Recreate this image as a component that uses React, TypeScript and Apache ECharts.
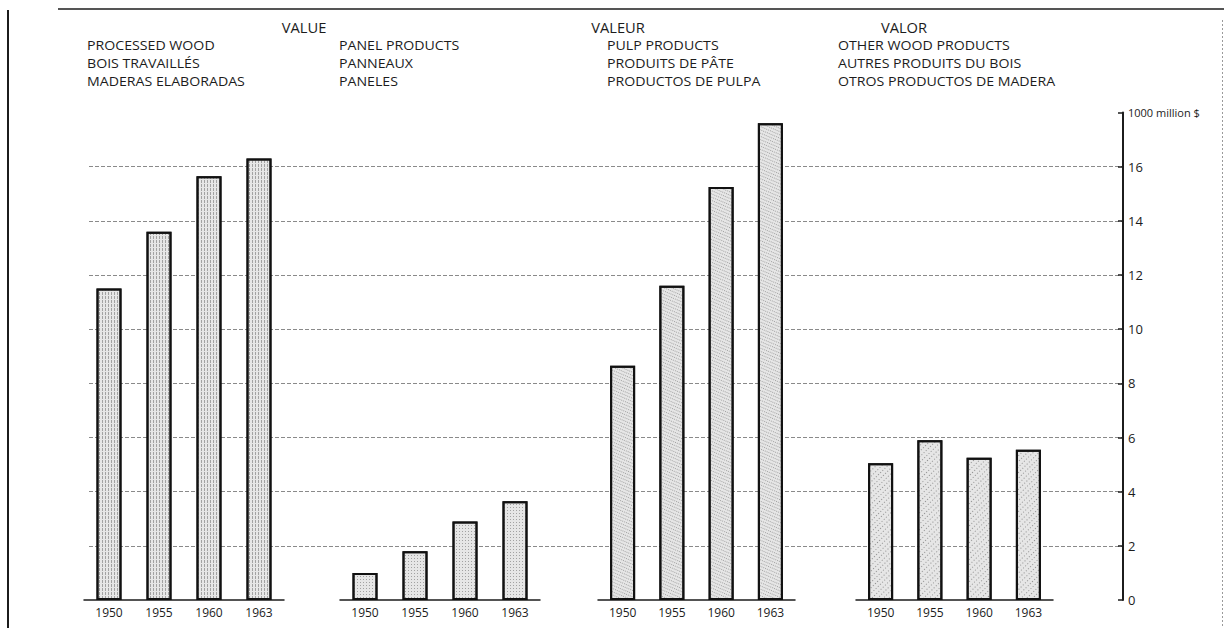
import React, { useEffect, useRef } from "react";
import * as echarts from "echarts";

const years = ["1950", "1955", "1960", "1963"];
const processedWood = [11.5, 13.6, 15.65, 16.3];
const panelProducts = [1.0, 1.8, 2.9, 3.65];
const pulpProducts = [8.65, 11.6, 15.25, 17.6];
const otherWoodProducts = [5.05, 5.9, 5.25, 5.55];
const yMax = 18;
const yStep = 2;
const unitLabel = "1000 million $";
const headings = ["VALUE", "VALEUR", "VALOR"];
const groupLabels = [
  ["PROCESSED WOOD", "BOIS TRAVAILLÉS", "MADERAS ELABORADAS"],
  ["PANEL PRODUCTS", "PANNEAUX", "PANELES"],
  ["PULP PRODUCTS", "PRODUITS DE PÂTE", "PRODUCTOS DE PULPA"],
  ["OTHER WOOD PRODUCTS", "AUTRES PRODUITS DU BOIS", "OTROS PRODUCTOS DE MADERA"],
];
const seriesData = [processedWood, panelProducts, pulpProducts, otherWoodProducts];

const FONT = "'Open Sans', Lato, sans-serif";
const INK = "#1c1c1c";

// layout
const gridLefts = [84, 340, 598, 856];
const gridWidths = [200, 200, 197, 197];
const headingX = [304, 618, 904];
const labelX = [87, 339, 607, 838];
const labelY = [45, 63, 81];
const TOP = 112.5;
const BOTTOM = 28;

const decals: any[] = [
  { symbol: "rect", symbolSize: 1, color: "rgba(80,80,80,0.45)", dashArrayX: [1, 2], dashArrayY: [3, 1], rotation: 0 },
  { symbol: "rect", symbolSize: 1, color: "rgba(80,80,80,0.45)", dashArrayX: [1, 2], dashArrayY: [1, 2], rotation: 0 },
  { symbol: "rect", symbolSize: 1, color: "rgba(80,80,80,0.45)", dashArrayX: [1, 1], dashArrayY: [1, 2], rotation: 0.4 },
  { symbol: "rect", symbolSize: 1, color: "rgba(60,60,60,0.5)", dashArrayX: [1, 3], dashArrayY: [1, 2], rotation: 0.8 },
];

export default function App() {
  const ref = useRef<HTMLDivElement>(null);
  useEffect(() => {
    document.body.style.margin = "0";
    if (!ref.current) return;
    const chart = echarts.init(ref.current, undefined, { renderer: "svg" });

    const grids: any[] = gridLefts.map((l, i) => ({ left: l, width: gridWidths[i], top: TOP, bottom: BOTTOM }));
    grids.push({ left: 89, right: 101, top: TOP, bottom: BOTTOM });

    const xAxes: any[] = gridLefts.map((_, i) => ({
      type: "category",
      gridIndex: i,
      data: years,
      axisLine: { show: true, lineStyle: { color: INK, width: 1.5 } },
      axisTick: { show: false },
      axisLabel: { fontFamily: FONT, fontSize: 12, color: INK, margin: 6 },
    }));
    xAxes.push({ type: "value", gridIndex: 4, show: false, min: 0, max: 1 });

    const yAxes: any[] = gridLefts.map((_, i) => ({
      type: "value",
      gridIndex: i,
      min: 0,
      max: yMax,
      interval: yStep,
      show: false,
    }));
    const nTicks = yMax / yStep + 1;
    const splitColors = Array.from({ length: nTicks }, (_, k) =>
      k === 0 || k === nTicks - 1 ? "rgba(0,0,0,0)" : "#8a8a8a"
    );
    yAxes.push({
      type: "value",
      gridIndex: 4,
      position: "right",
      min: 0,
      max: yMax,
      interval: yStep,
      axisLine: { show: true, onZero: false, lineStyle: { color: INK, width: 2 } },
      axisTick: { show: true, inside: true, length: 5, lineStyle: { color: INK, width: 1.5 } },
      axisLabel: {
        margin: 5,
        fontFamily: FONT,
        fontSize: 13,
        color: INK,
        formatter: (v: number) => (v === yMax ? "{u|" + unitLabel + "}" : String(v)),
        rich: { u: { fontFamily: FONT, fontSize: 11, color: INK } },
      },
      splitLine: { show: true, lineStyle: { color: splitColors, width: 1, type: [4, 2] } },
    });

    const series: any[] = seriesData.map((d, i) => ({
      type: "bar",
      xAxisIndex: i,
      yAxisIndex: i,
      data: d,
      barWidth: 25,
      itemStyle: { color: "#e6e6e6", borderColor: "#111", borderWidth: 2, decal: decals[i] },
      z: 3,
    }));

    const graphics: any[] = [];
    headings.forEach((h, i) =>
      graphics.push({
        type: "text",
        x: headingX[i],
        y: 28,
        scaleX: 1.05,
        style: { text: h, fontFamily: FONT, fontSize: 14, fill: INK, align: "center", verticalAlign: "middle" },
      })
    );
    groupLabels.forEach((lines, i) =>
      lines.forEach((t, j) =>
        graphics.push({
          type: "text",
          x: labelX[i],
          y: labelY[j],
          scaleX: 1.18,
          style: { text: t, fontFamily: FONT, fontSize: 12, fill: INK, align: "left", verticalAlign: "middle" },
        })
      )
    );
    graphics.push(
      { type: "line", shape: { x1: 58, y1: 9, x2: 1224, y2: 9 }, style: { stroke: INK, lineWidth: 1.5 } },
      { type: "line", shape: { x1: 8, y1: 10, x2: 8, y2: 628 }, style: { stroke: INK, lineWidth: 2 } },
      { type: "line", shape: { x1: 1222.5, y1: 20, x2: 1222.5, y2: 628 }, style: { stroke: "#9a9a9a", lineWidth: 1, lineDash: [2, 2] } }
    );

    chart.setOption({
      animation: false,
      backgroundColor: "#ffffff",
      textStyle: { fontFamily: FONT },
      grid: grids,
      xAxis: xAxes,
      yAxis: yAxes,
      series,
      graphic: graphics,
    });
    return () => chart.dispose();
  }, []);
  return <div ref={ref} style={{ width: 1224, height: 628 }} />;
}
